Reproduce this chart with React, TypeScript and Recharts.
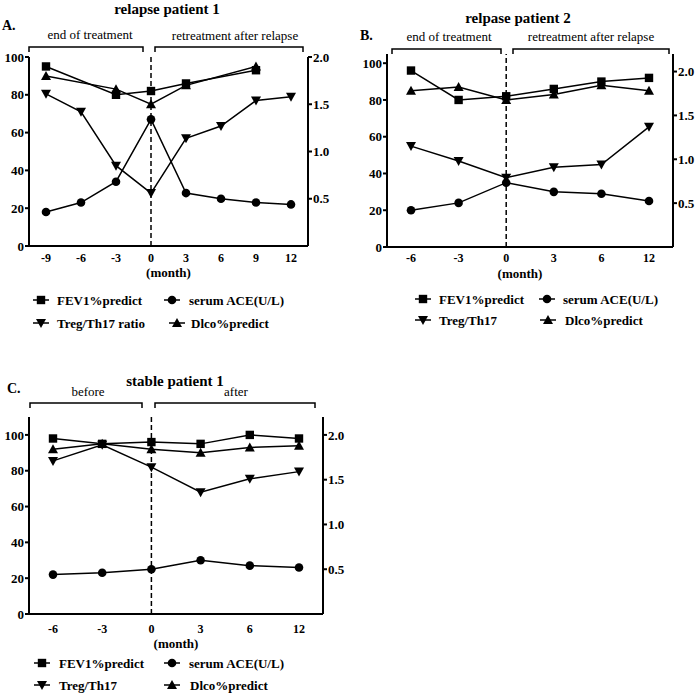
import { LineChart, Line, XAxis, YAxis, ReferenceLine } from 'recharts';

const FONT = '"Liberation Serif", "Times New Roman", serif';

// Panel A: relapse patient 1
const monthsA = ['-9', '-6', '-3', '0', '3', '6', '9', '12'];
const fev1A = [95, null, 80, 82, 86, null, 93, null];
const aceA = [18, 23, 34, 67, 28, 25, 23, 22];
const tregA = [1.61, 1.42, 0.85, 0.56, 1.14, 1.27, 1.54, 1.58];
const dlcoA = [90, null, 83, 75, 85, null, 95, null];

// Panel B: relpase patient 2
const monthsB = ['-6', '-3', '0', '3', '6', '12'];
const fev1B = [96, 80, 82, 86, 90, 92];
const aceB = [20, 24, 35, 30, 29, 25];
const tregB = [1.15, 0.98, 0.79, 0.91, 0.94, 1.37];
const dlcoB = [85, 87, 80, 83, 88, 85];

// Panel C: stable patient 1
const monthsC = ['-6', '-3', '0', '3', '6', '12'];
const fev1C = [98, 95, 96, 95, 100, 98];
const aceC = [22, 23, 25, 30, 27, 26];
const tregC = [1.71, 1.89, 1.64, 1.36, 1.51, 1.59];
const dlcoC = [92, 95, 92, 90, 93, 94];

const leftTicks = [0, 20, 40, 60, 80, 100];
const rightTicks = [0.5, 1.0, 1.5, 2.0];

type Row = { month: string; fev1: number | null; ace: number | null; treg: number | null; dlco: number | null };

function buildRows(months: string[], fev1: (number | null)[], ace: (number | null)[], treg: (number | null)[], dlco: (number | null)[]): Row[] {
  return months.map((month, i) => ({ month, fev1: fev1[i], ace: ace[i], treg: treg[i], dlco: dlco[i] }));
}

type Shape = 'square' | 'circle' | 'down' | 'up';

function Marker({ shape, cx, cy }: { shape: Shape; cx: number; cy: number }) {
  if (shape === 'square') return <rect x={cx - 4.2} y={cy - 4.2} width={8.4} height={8.4} fill="#000" />;
  if (shape === 'circle') return <circle cx={cx} cy={cy} r={4.3} fill="#000" />;
  if (shape === 'up')
    return <polygon points={`${cx},${cy - 5} ${cx + 5},${cy + 4} ${cx - 5},${cy + 4}`} fill="#000" />;
  return <polygon points={`${cx - 5},${cy - 4} ${cx + 5},${cy - 4} ${cx},${cy + 5}`} fill="#000" />;
}

const dotOf = (shape: Shape) => (props: any) => {
  const { cx, cy, index, value } = props;
  if (cx == null || cy == null || value == null || Number.isNaN(cy)) return <g key={`${shape}-${index}`} />;
  return (
    <g key={`${shape}-${index}`}>
      <Marker shape={shape} cx={cx} cy={cy} />
    </g>
  );
};

const tickStyle = { fill: '#000', fontSize: 13, fontWeight: 'bold', fontFamily: FONT };
const xTickStyle = { ...tickStyle, fontSize: 12 };
const axisStroke = { stroke: '#000', strokeWidth: 2 };

interface PanelProps {
  data: Row[];
  width: number;
  height: number;
  margin: { top: number; right: number; bottom: number; left: number };
  leftWidth: number;
  rightWidth: number;
  leftMax: number;
  rightMax: number;
  xHeight: number;
  xTickMargin: number;
  xPad: number;
  monthDx: number;
}

function Panel({ data, width, height, margin, leftWidth, rightWidth, leftMax, rightMax, xHeight, xTickMargin, xPad, monthDx }: PanelProps) {
  return (
    <LineChart width={width} height={height} data={data} margin={margin}>
      <XAxis
        dataKey="month"
        height={xHeight}
        padding={{ left: xPad, right: xPad }}
        axisLine={axisStroke}
        tickLine={false}
        tickMargin={xTickMargin}
        tick={xTickStyle}
        interval={0}
        label={{
          value: '(month)',
          position: 'insideBottom',
          offset: 0,
          dx: monthDx,
          style: { fill: '#000', fontSize: 13, fontWeight: 'bold', fontFamily: FONT },
        }}
      />
      <YAxis
        yAxisId="left"
        width={leftWidth}
        domain={[0, leftMax]}
        ticks={leftTicks}
        interval={0}
        allowDataOverflow
        axisLine={axisStroke}
        tickLine={axisStroke}
        tickSize={4}
        tickMargin={1}
        tick={tickStyle}
      />
      <YAxis
        yAxisId="right"
        orientation="right"
        width={rightWidth}
        domain={[0, rightMax]}
        ticks={rightTicks}
        interval={0}
        allowDataOverflow
        axisLine={axisStroke}
        tickLine={axisStroke}
        tickSize={4}
        tickMargin={1}
        tick={tickStyle}
        tickFormatter={(v: number) => v.toFixed(1)}
      />
      <ReferenceLine yAxisId="left" x="0" stroke="#000" strokeWidth={1.5} strokeDasharray="5 3" />
      <Line yAxisId="left" dataKey="ace" stroke="#000" strokeWidth={1.5} dot={dotOf('circle')} isAnimationActive={false} connectNulls />
      <Line yAxisId="right" dataKey="treg" stroke="#000" strokeWidth={1.5} dot={dotOf('down')} isAnimationActive={false} connectNulls />
      <Line yAxisId="left" dataKey="dlco" stroke="#000" strokeWidth={1.5} dot={dotOf('up')} isAnimationActive={false} connectNulls />
      <Line yAxisId="left" dataKey="fev1" stroke="#000" strokeWidth={1.5} dot={dotOf('square')} isAnimationActive={false} connectNulls />
    </LineChart>
  );
}

function Bracket({ x1, x2, y }: { x1: number; x2: number; y: number }) {
  return <path d={`M${x1},${y + 5} V${y} H${x2} V${y + 5}`} fill="none" stroke="#000" strokeWidth={1.5} />;
}

function LegendItem({ mx, tx, y, shape, label }: { mx: number; tx: number; y: number; shape: Shape; label: string }) {
  return (
    <g>
      <line x1={mx - 8} x2={mx + 8} y1={y} y2={y} stroke="#000" strokeWidth={1.5} />
      <Marker shape={shape} cx={mx} cy={y} />
      <text x={tx} y={y + 4.5} fontSize={13} fontWeight="bold" fontFamily={FONT} fill="#000">
        {label}
      </text>
    </g>
  );
}

const bold = { fontFamily: FONT, fontWeight: 'bold' as const, fill: '#000' };
const plain = { fontFamily: FONT, fill: '#000' };

export default function App() {
  const dataA = buildRows(monthsA, fev1A, aceA, tregA, dlcoA);
  const dataB = buildRows(monthsB, fev1B, aceB, tregB, dlcoB);
  const dataC = buildRows(monthsC, fev1C, aceC, tregC, dlcoC);

  return (
    <div style={{ position: 'absolute', left: 0, top: 0, width: 699, height: 694, background: '#fff', overflow: 'hidden' }}>
      <div style={{ position: 'absolute', left: 0, top: 0 }}>
        <Panel
          data={dataA}
          width={345}
          height={290}
          margin={{ top: 57, right: 0, bottom: 13, left: 0 }}
          leftWidth={29}
          rightWidth={37}
          leftMax={100}
          rightMax={2.0}
          xHeight={31}
          xTickMargin={1}
          xPad={17}
          monthDx={0}
        />
      </div>
      <div style={{ position: 'absolute', left: 350, top: 0 }}>
        <Panel
          data={dataB}
          width={349}
          height={290}
          margin={{ top: 54, right: 0, bottom: 12, left: 7 }}
          leftWidth={30}
          rightWidth={26}
          leftMax={105}
          rightMax={2.2}
          xHeight={31}
          xTickMargin={0}
          xPad={24}
          monthDx={-10}
        />
      </div>
      <div style={{ position: 'absolute', left: 0, top: 340 }}>
        <Panel
          data={dataC}
          width={360}
          height={320}
          margin={{ top: 77, right: 0, bottom: 12, left: 0 }}
          leftWidth={29}
          rightWidth={37}
          leftMax={110}
          rightMax={2.2}
          xHeight={34}
          xTickMargin={4}
          xPad={24}
          monthDx={0}
        />
      </div>
      <svg width={699} height={694} style={{ position: 'absolute', left: 0, top: 0, pointerEvents: 'none' }}>
        {/* panel A */}
        <text x={167} y={14} fontSize={15} textAnchor="middle" {...bold}>relapse patient 1</text>
        <text x={2} y={30} fontSize={14} {...bold}>A.</text>
        <text x={90} y={39} fontSize={13} textAnchor="middle" {...plain}>end of treatment</text>
        <text x={235} y={40} fontSize={13} textAnchor="middle" {...plain}>retreatment after relapse</text>
        <Bracket x1={29} x2={143} y={47} />
        <Bracket x1={155} x2={303} y={47} />
        <LegendItem mx={41} tx={57} y={300} shape="square" label="FEV1%predict" />
        <LegendItem mx={172} tx={189} y={300} shape="circle" label="serum ACE(U/L)" />
        <LegendItem mx={41} tx={57} y={323} shape="down" label="Treg/Th17 ratio" />
        <LegendItem mx={177} tx={191} y={323} shape="up" label="Dlco%predict" />

        {/* panel B */}
        <text x={518} y={23} fontSize={15} textAnchor="middle" {...bold}>relpase patient 2</text>
        <text x={360} y={40} fontSize={14} {...bold}>B.</text>
        <text x={449} y={41} fontSize={13} textAnchor="middle" {...plain}>end of treatment</text>
        <text x={591} y={41} fontSize={13} textAnchor="middle" {...plain}>retreatment after relapse</text>
        <Bracket x1={392} x2={501} y={49} />
        <Bracket x1={513} x2={669} y={49} />
        <LegendItem mx={423} tx={439} y={299} shape="square" label="FEV1%predict" />
        <LegendItem mx={547} tx={563} y={299} shape="circle" label="serum ACE(U/L)" />
        <LegendItem mx={423} tx={439} y={320} shape="down" label="Treg/Th17" />
        <LegendItem mx={548} tx={565} y={320} shape="up" label="Dlco%predict" />

        {/* panel C */}
        <text x={175} y={386} fontSize={15} textAnchor="middle" {...bold}>stable patient 1</text>
        <text x={7} y={393} fontSize={14} {...bold}>C.</text>
        <text x={88} y={396} fontSize={13} textAnchor="middle" {...plain}>before</text>
        <text x={236} y={396} fontSize={13} textAnchor="middle" {...plain}>after</text>
        <Bracket x1={30} x2={142} y={403} />
        <Bracket x1={155} x2={315} y={403} />
        <LegendItem mx={42} tx={59} y={663} shape="square" label="FEV1%predict" />
        <LegendItem mx={172} tx={189} y={663} shape="circle" label="serum ACE(U/L)" />
        <LegendItem mx={42} tx={59} y={685} shape="down" label="Treg/Th17" />
        <LegendItem mx={172} tx={190} y={685} shape="up" label="Dlco%predict" />
      </svg>
    </div>
  );
}
